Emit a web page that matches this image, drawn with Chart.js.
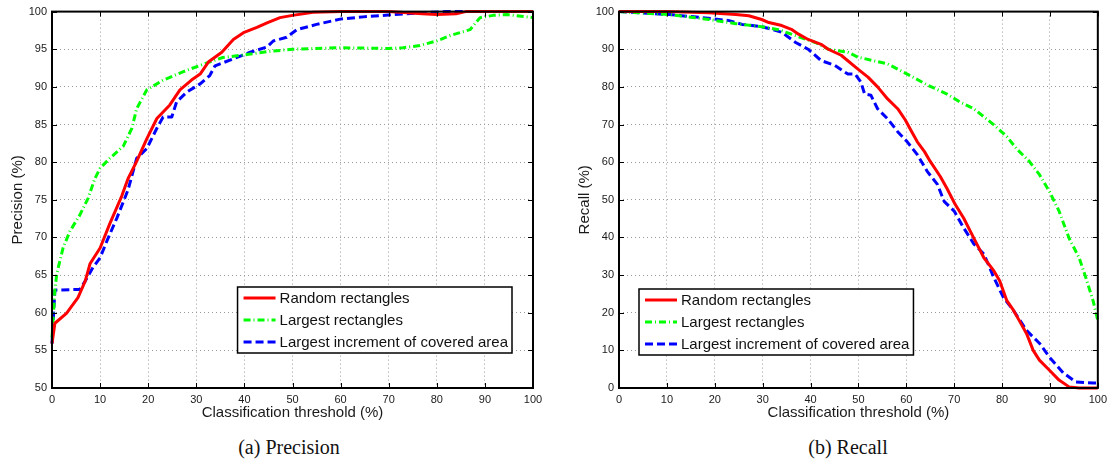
<!DOCTYPE html>
<html>
<head>
<meta charset="utf-8">
<script src="https://cdn.jsdelivr.net/npm/chart.js@4.4.0/dist/chart.umd.min.js"></script>
<style>
html, body { margin: 0; padding: 0; background: #fff; }
#wrap { position: relative; width: 1112px; height: 462px; overflow: hidden; }
canvas { position: absolute; top: 0; }
#precisionCanvas { left: 0; }
#recallCanvas { left: 567px; }
.cap { position: absolute; top: 433px; font-family: "Liberation Serif", serif; font-size: 20px; color: #111;
       transform: translateX(-50%); white-space: nowrap; line-height: 28px; }
</style>
</head>
<body>
<div id="wrap">
  <canvas id="precisionCanvas" width="556" height="430"></canvas>
  <canvas id="recallCanvas" width="545" height="430"></canvas>
  <div class="cap" style="left:289px">(a) Precision</div>
  <div class="cap" style="left:848px">(b) Recall</div>
</div>
<script>
// ---- Series labels and axis ticks ----
const seriesNames = ['Random rectangles', 'Largest rectangles', 'Largest increment of covered area'];
const thresholdTicks = [0, 10, 20, 30, 40, 50, 60, 70, 80, 90, 100];
const precisionTicks = [50, 55, 60, 65, 70, 75, 80, 85, 90, 95, 100];
const recallTicks = [0, 10, 20, 30, 40, 50, 60, 70, 80, 90, 100];

// ---- Precision (%) vs classification threshold (%) ----
const precRandomX = [0, 0.6, 3, 5.4, 6.9, 7.9, 10, 12, 14.5, 15.8, 17.6, 19.7, 21.8, 24.5, 26.6, 29, 30.8, 32.5, 35.3, 37.7, 39.8, 42.6, 44.7, 47.4, 50, 54.3, 60, 70, 77, 80, 84, 86, 90, 100];
const precRandomY = [55.9, 58.6, 59.9, 62, 64.2, 66.5, 68.6, 71.8, 75.5, 77.8, 80.1, 83.1, 85.8, 87.6, 89.6, 90.9, 91.7, 93.3, 94.6, 96.3, 97.2, 97.9, 98.5, 99.2, 99.5, 99.9, 100, 100, 99.7, 99.6, 99.7, 100, 100, 100];

const precLargestX = [0, 0.6, 1, 2.3, 3.7, 5.8, 7.5, 8.9, 10, 12, 14.8, 16.6, 17.6, 19.7, 23.1, 27.2, 31.4, 35.5, 40.5, 45, 50, 60, 70, 73, 76.5, 80, 82.7, 86.9, 89, 91.7, 94.6, 100];
const precLargestY = [56.7, 63, 65.2, 68.6, 70.8, 73, 75.2, 77.8, 79.2, 80.5, 82.1, 84.5, 87.1, 89.6, 90.9, 92, 93, 93.9, 94.3, 94.7, 95, 95.2, 95.1, 95.2, 95.5, 96.1, 96.8, 97.6, 99.2, 99.5, 99.6, 99.2];

const precIncrementX = [0, 0.6, 5.8, 6.9, 8.5, 10, 11.4, 13.5, 15.8, 17.6, 19.7, 21.8, 23.1, 24.9, 25.9, 28, 30.8, 32.8, 33.9, 37.6, 41.2, 44.7, 46, 48.8, 50.9, 55, 59.9, 64.7, 70.9, 78, 82, 100];
const precIncrementY = [55.9, 63, 63.1, 64.2, 66, 67.3, 69.5, 72.6, 76.3, 80.5, 81.8, 84.5, 86, 86, 88, 89.3, 90.4, 91.5, 92.8, 93.7, 94.6, 95.3, 96.1, 96.6, 97.6, 98.3, 99, 99.3, 99.6, 99.9, 100, 100];

// ---- Recall (%) vs classification threshold (%) ----
const recRandomX = [0, 10, 18.8, 24.4, 27.1, 29.8, 31.3, 34, 36, 37.5, 39.5, 42.2, 43.7, 46.4, 49.9, 52, 54, 56.1, 58.2, 59.8, 60.9, 62.3, 63.8, 65, 67.1, 68.5, 70.2, 72, 74.1, 76.2, 78.3, 79.5, 81, 82.4, 83.6, 85.1, 86.5, 87.8, 89.9, 91.9, 94, 96.1, 100];
const recRandomY = [100, 100, 99.7, 99.2, 98.9, 97.9, 97.1, 96.3, 95.3, 94, 92.6, 91.3, 90, 88.4, 84.7, 82.6, 80, 76.8, 74.2, 71.2, 68.6, 65.4, 62.8, 60.2, 56.2, 53, 48.8, 45.1, 39.8, 34.6, 31.1, 28.5, 23.2, 20.6, 17.9, 14.5, 10, 7.4, 4.7, 2.1, 0.3, 0, 0];

const recLargestX = [0, 10.6, 18.8, 24.4, 29.8, 33.3, 36.9, 41, 43.7, 47.8, 49.9, 56.1, 60.2, 64.4, 68.5, 71.2, 74.1, 78.3, 81, 83, 85.7, 87.8, 89.9, 91.9, 94, 96.1, 97.5, 99, 100];
const recLargestY = [100, 99.2, 97.9, 96.8, 96, 95.2, 93.6, 91.8, 90, 89.2, 87.9, 86.1, 83.4, 80.5, 78.1, 76, 74.2, 69.9, 66.8, 63.6, 60.2, 56.7, 52.2, 47, 39.8, 34.6, 29.3, 23.2, 18];

const recIncrementX = [0, 10.6, 17.4, 23, 25.7, 29.8, 31.9, 34, 36.9, 39.5, 42.2, 45.1, 47.8, 49.3, 50.5, 51.3, 52.6, 54, 56.1, 58.2, 60.2, 62.3, 64.4, 66.5, 67.9, 70, 72, 74.1, 76.2, 78.3, 80.3, 82.4, 85.1, 87.8, 89.9, 92.8, 95.4, 99, 100];
const recIncrementY = [100, 99.2, 98.4, 97.6, 96.6, 96, 95.3, 94.5, 91.8, 90, 87, 85.7, 83.4, 83.4, 81.3, 78.1, 77.8, 74.2, 71.5, 68.1, 65.4, 62, 57.5, 54.1, 49.6, 47, 42.5, 38.3, 35.6, 29.3, 24, 20.6, 15.3, 11.9, 8.2, 4, 1.6, 1.3, 1.3];

// ---- Drawing ----
Chart.defaults.font.family = '"Liberation Sans", Arial, sans-serif';
Chart.defaults.color = '#1a1a1a';

const seriesStyles = [
  { color: '#ff0000', dash: [] },
  { color: '#00ff00', dash: [7, 3, 1, 3] },
  { color: '#0000ff', dash: [8, 4] }
];

function pairs(xs, ys) { return xs.map((x, i) => ({ x: x, y: ys[i] })); }

function makeDatasets(seriesXY) {
  return seriesXY.map((s, i) => ({
    label: seriesNames[i],
    data: pairs(s[0], s[1]),
    borderColor: seriesStyles[i].color,
    borderDash: seriesStyles[i].dash,
    borderWidth: 3,
    borderCapStyle: 'butt',
    borderJoinStyle: 'round',
    pointRadius: 0,
    tension: 0,
    fill: false,
    clip: 4
  }));
}

// Box frame with inward tick marks on all four sides
const framePlugin = {
  id: 'frameTicks',
  afterDatasetsDraw(chart) {
    const { ctx, chartArea: a, scales } = chart;
    ctx.save();
    ctx.strokeStyle = '#000';
    ctx.lineWidth = 1;
    const L = 5;
    ctx.beginPath();
    scales.x.ticks.forEach(t => {
      const px = Math.round(scales.x.getPixelForValue(t.value)) + 0.5;
      ctx.moveTo(px, a.bottom); ctx.lineTo(px, a.bottom - L);
      ctx.moveTo(px, a.top); ctx.lineTo(px, a.top + L);
    });
    scales.y.ticks.forEach(t => {
      const py = Math.round(scales.y.getPixelForValue(t.value)) + 0.5;
      ctx.moveTo(a.left, py); ctx.lineTo(a.left + L, py);
      ctx.moveTo(a.right, py); ctx.lineTo(a.right - L, py);
    });
    ctx.stroke();
    ctx.lineWidth = 2;
    ctx.strokeRect(a.left, a.top, a.right - a.left, a.bottom - a.top);
    ctx.restore();
  }
};

// Boxed legend placed inside the plot area
const boxLegendPlugin = {
  id: 'boxLegend',
  afterDraw(chart, args, opts) {
    const { ctx, chartArea: a } = chart;
    ctx.save();
    ctx.font = '15px "Liberation Sans", Arial, sans-serif';
    const names = chart.data.datasets.map(d => d.label);
    const textW = Math.max(...names.map(n => ctx.measureText(n).width));
    const sampleL = 6, sampleW = 32, gap = 4, rowH = 22;
    const w = sampleL + sampleW + gap + textW + 4;
    const h = rowH * names.length;
    const x0 = opts.side === 'right' ? a.right - opts.dx - w : a.left + opts.dx;
    const y0 = a.bottom - opts.dy - h;
    ctx.fillStyle = '#fff';
    ctx.fillRect(x0, y0, w, h);
    ctx.lineWidth = 1.5;
    ctx.strokeStyle = '#000';
    ctx.strokeRect(x0, y0, w, h);
    ctx.textBaseline = 'middle';
    chart.data.datasets.forEach((d, i) => {
      const cy = y0 + 11 + rowH * i;
      ctx.beginPath();
      ctx.strokeStyle = d.borderColor;
      ctx.lineWidth = 3;
      ctx.setLineDash(d.borderDash);
      ctx.moveTo(x0 + sampleL, cy);
      ctx.lineTo(x0 + sampleL + sampleW, cy);
      ctx.stroke();
      ctx.setLineDash([]);
      ctx.fillStyle = '#111';
      ctx.fillText(d.label, x0 + sampleL + sampleW + gap, cy + 1);
    });
    ctx.restore();
  }
};

function makeChart(canvasId, datasets, yMin, yMax, yTicks, yTitle, padRight, legendOpts) {
  const gridStyle = { color: '#9a9a9a', lineWidth: 1, drawTicks: false };
  const borderStyle = { display: false, dash: [1, 3] };
  return new Chart(document.getElementById(canvasId), {
    type: 'line',
    data: { datasets: datasets },
    options: {
      responsive: false,
      animation: false,
      devicePixelRatio: 1,
      layout: { padding: { left: 0, top: 9, right: padRight, bottom: 0 } },
      plugins: { legend: { display: false }, tooltip: { enabled: false }, boxLegend: legendOpts },
      scales: {
        x: {
          type: 'linear', min: 0, max: 100,
          afterBuildTicks: s => { s.ticks = thresholdTicks.map(v => ({ value: v })); },
          afterFit: s => { s.height = 42; },
          grid: gridStyle, border: borderStyle,
          ticks: { font: { size: 11 }, padding: 5, maxRotation: 0, autoSkip: false },
          title: { display: true, text: 'Classification threshold (%)', font: { size: 15 }, padding: { top: 0, bottom: 8 } }
        },
        y: {
          type: 'linear', min: yMin, max: yMax,
          afterBuildTicks: s => { s.ticks = yTicks.map(v => ({ value: v })); },
          afterFit: s => { s.width = 52; },
          grid: gridStyle, border: borderStyle,
          ticks: { font: { size: 11 }, padding: 5, autoSkip: false },
          title: { display: true, text: yTitle, font: { size: 15 }, padding: { top: 9, bottom: 0 } }
        }
      }
    },
    plugins: [framePlugin, boxLegendPlugin]
  });
}

makeChart('precisionCanvas',
  makeDatasets([[precRandomX, precRandomY], [precLargestX, precLargestY], [precIncrementX, precIncrementY]]),
  50, 100, precisionTicks, 'Precision (%)', 23, { side: 'right', dx: 21, dy: 35 });

makeChart('recallCanvas',
  makeDatasets([[recRandomX, recRandomY], [recLargestX, recLargestY], [recIncrementX, recIncrementY]]),
  0, 100, recallTicks, 'Recall (%)', 10, { side: 'left', dx: 20, dy: 33 });
</script>
</body>
</html>
